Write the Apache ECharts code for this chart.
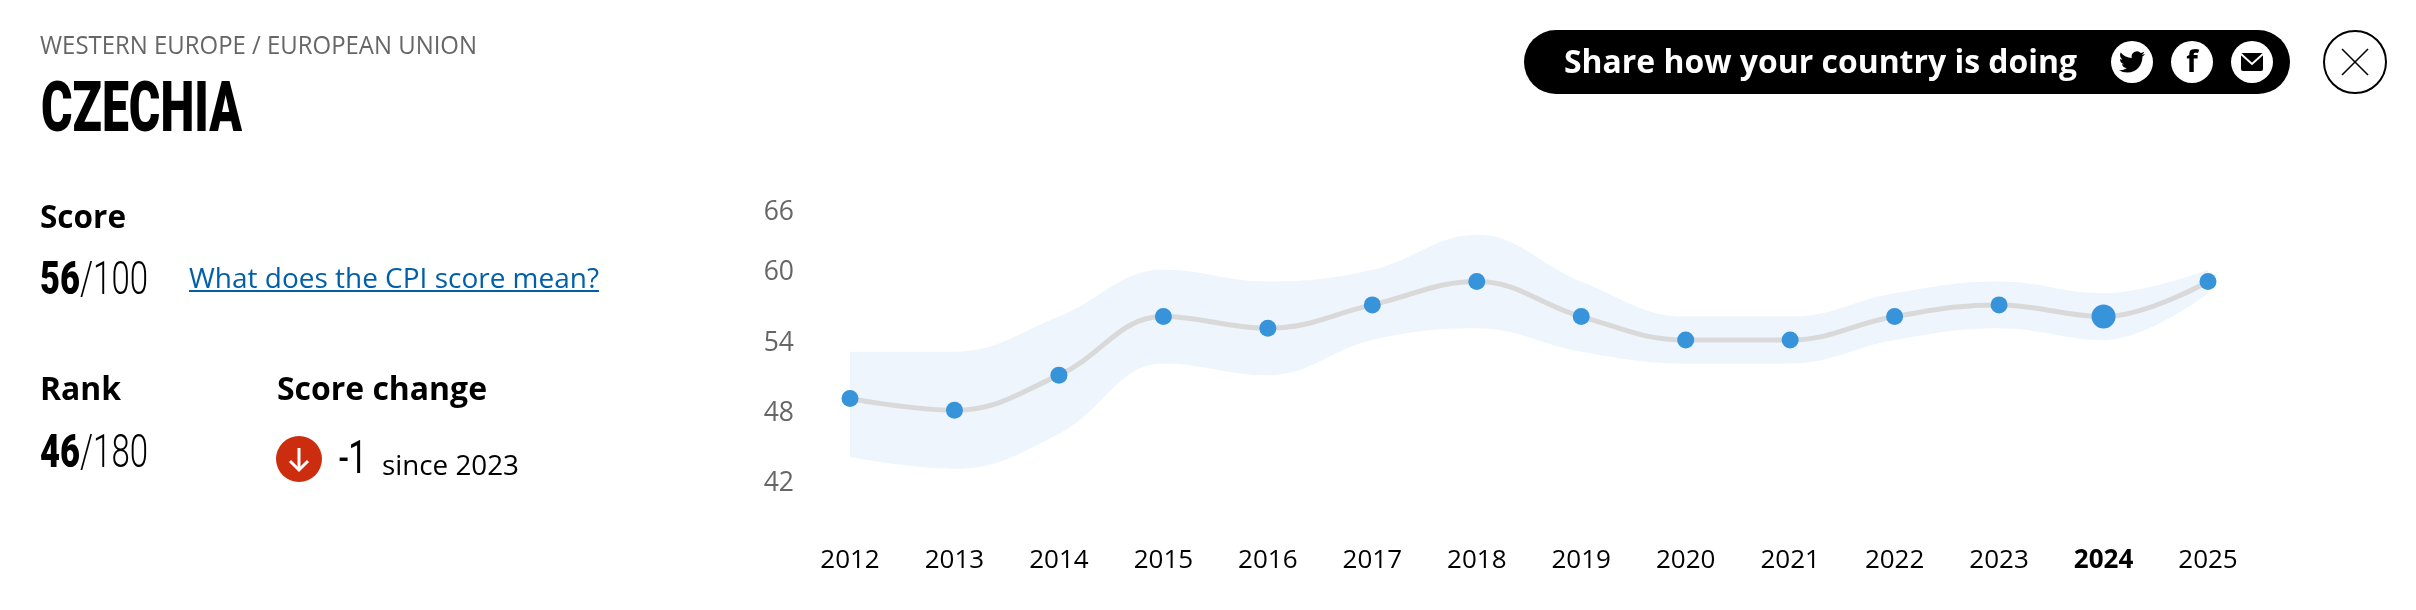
<!DOCTYPE html>
<html><head><meta charset="utf-8">
<style>html,body{margin:0;padding:0;background:#fff}#c{width:2416px;height:610px}</style>
<script src="https://cdn.jsdelivr.net/npm/echarts@6/dist/echarts.min.js"></script>
</head><body><div id="c"></div>
<script>
const years = ['2012','2013','2014','2015','2016','2017','2018','2019','2020','2021','2022','2023','2024','2025'];
const scores = [49,48,51,56,55,57,59,56,54,54,56,57,56,59];
const lower = [44,43,46,52,51,54,55,53,52,52,54,55,54,58];
const upper = [53,53,56,60,59,60,63,59,56,56,58,59,58,60];
const highlightYear = '2024';
const OS = '"Open Sans"', COND = 'Roboto';
const TW = 'M23.953 4.57a10 10 0 01-2.825.775 4.958 4.958 0 002.163-2.723c-.951.555-2.005.959-3.127 1.184a4.92 4.92 0 00-8.384 4.482C7.69 8.095 4.067 6.13 1.64 3.162a4.822 4.822 0 00-.666 2.475c0 1.71.87 3.213 2.188 4.096a4.904 4.904 0 01-2.228-.616v.06a4.923 4.923 0 003.946 4.827 4.996 4.996 0 01-2.212.085 4.936 4.936 0 004.604 3.417 9.867 9.867 0 01-6.102 2.105c-.39 0-.779-.023-1.17-.067a13.995 13.995 0 007.557 2.209c9.053 0 13.998-7.496 13.998-13.985 0-.21 0-.42-.015-.63A9.935 9.935 0 0024 4.59z';
const ctx = document.createElement('canvas').getContext('2d');
function T(text,x,y,font,fill,width,align){
  ctx.font = font;
  const sx = width ? width/ctx.measureText(text).width : 1;
  return {type:'text',x:x,y:y,scaleX:sx,silent:true,
    style:{text:text,x:0,y:0,font:font,fill:fill,textAlign:align||'left',textVerticalAlign:'middle',verticalAlign:'middle'}};
}
const twitterImg = 'data:image/svg+xml;utf8,' + encodeURIComponent('<svg xmlns="http://www.w3.org/2000/svg" viewBox="0 0 24 24" width="26" height="26"><path d="'+TW+'" fill="#000"/></svg>');
const graphics = [
  T('WESTERN EUROPE / EUROPEAN UNION',40,47,'400 25px '+OS,'#666666',437),
  T('CZECHIA',41,113,'900 70px '+COND,'#000000',201),
  T('Score',40,219,'700 32px '+OS,'#000000',86),
  T('56',40,282,'900 46px '+COND,'#000000',40),
  T('/100',80,282,'300 46px '+COND,'#000000',68),
  T('What does the CPI score mean?',189,280,'400 28px '+OS,'#005fa8',410),
  {type:'rect',silent:true,shape:{x:189,y:290,width:410,height:2},style:{fill:'#005fa8'}},
  T('Rank',40,391,'700 32px '+OS,'#000000',81),
  T('Score change',277,391,'700 32px '+OS,'#000000',210),
  T('46',40,455,'900 46px '+COND,'#000000',40),
  T('/180',80,455,'300 46px '+COND,'#000000',68),
  {type:'circle',silent:true,shape:{cx:299,cy:459,r:23},style:{fill:'#cb2d0e'}},
  {type:'polyline',silent:true,shape:{points:[[299,448],[299,470]]},style:{stroke:'#fff',lineWidth:3,fill:'none'}},
  {type:'polyline',silent:true,shape:{points:[[290,461],[299,470],[308,461]]},style:{stroke:'#fff',lineWidth:3,fill:'none'}},
  T('-1',339,461,'400 46px '+COND,'#000000',28),
  T('since 2023',382,467,'400 27px '+OS,'#000000',137),
  {type:'rect',silent:true,shape:{x:1524,y:30,width:766,height:64,r:32},style:{fill:'#000'}},
  T('Share how your country is doing',1564,64,'700 33px '+OS,'#ffffff',513),
  {type:'circle',silent:true,shape:{cx:2132,cy:62,r:21},style:{fill:'#fff'}},
  {type:'image',silent:true,style:{image:twitterImg,x:2119,y:49,width:26,height:26}},
  {type:'circle',silent:true,shape:{cx:2192,cy:62,r:21},style:{fill:'#fff'}},
  T('f',2192,63,'700 30px '+OS,'#000000',0,'center'),
  {type:'circle',silent:true,shape:{cx:2252,cy:62,r:21},style:{fill:'#fff'}},
  {type:'rect',silent:true,shape:{x:2241,y:53,width:22,height:18,r:2},style:{fill:'#000'}},
  {type:'polyline',silent:true,shape:{points:[[2241,54],[2252,64],[2263,54]]},style:{stroke:'#fff',lineWidth:2,fill:'none'}},
  {type:'circle',silent:true,shape:{cx:2355,cy:62,r:31},style:{fill:'#fff',stroke:'#000',lineWidth:2}},
  {type:'line',silent:true,shape:{x1:2342,y1:49,x2:2368,y2:75},style:{stroke:'#000',lineWidth:1.6}},
  {type:'line',silent:true,shape:{x1:2368,y1:49,x2:2342,y2:75},style:{stroke:'#000',lineWidth:1.6}}
];
const xLabel = {fontFamily:OS,fontSize:26,color:'#000',verticalAlign:'middle',lineHeight:26};
const yText = {fontFamily:OS,fontSize:26.5,color:'#666'};
const chart = echarts.init(document.getElementById('c'),null,{width:2416,height:610});
chart.setOption({
  animation:false,
  backgroundColor:'#ffffff',
  grid:{left:850,right:208,top:199.5,height:281,containLabel:false},
  xAxis:{type:'category',boundaryGap:false,
    data:years.map(y=>y===highlightYear?{value:y,textStyle:Object.assign({},xLabel,{fontWeight:'bold'})}:y),
    axisLine:{show:false},axisTick:{show:false},splitLine:{show:false},
    axisLabel:Object.assign({interval:0,margin:80,hideOverlap:false},xLabel)},
  yAxis:{type:'value',min:42,max:66,interval:6,
    axisLine:{show:false},axisTick:{show:false},splitLine:{show:false},
    axisLabel:Object.assign({margin:56,formatter:v=>'{'+(v===66?'t':'n')+'|'+v+'}',
      rich:{t:Object.assign({padding:[26,0,0,0]},yText),n:Object.assign({padding:[6,0,0,0]},yText)}},yText)},
  series:[
    {type:'line',name:'low',data:lower,stack:'band',smooth:0.4,symbol:'none',silent:true,lineStyle:{width:0,opacity:0},z:1},
    {type:'line',name:'band',data:upper.map((u,i)=>u-lower[i]),stack:'band',smooth:0.4,symbol:'none',silent:true,
      lineStyle:{width:0,opacity:0},areaStyle:{color:'#eef5fd',opacity:1},z:1},
    {type:'line',name:'score',data:scores,smooth:0.4,z:3,showSymbol:true,showAllSymbol:true,symbol:'circle',
      symbolSize:(v,p)=>years[p.dataIndex]===highlightYear?24:17,
      itemStyle:{color:'#3794db'},lineStyle:{color:'#d9d9d9',width:5},silent:true}
  ],
  graphic:{elements:graphics}
});
</script></body></html>
